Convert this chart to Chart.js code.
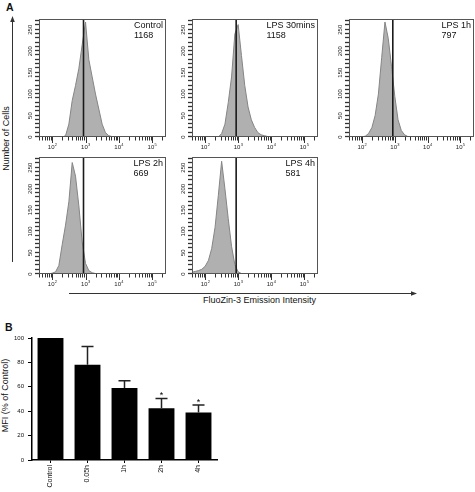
<!DOCTYPE html>
<html>
<head>
<meta charset="utf-8">
<script src="https://cdn.jsdelivr.net/npm/chart.js@4.4.1/dist/chart.umd.min.js"></script>
<style>
  html, body { margin: 0; padding: 0; background: #fff; }
  #page { position: relative; width: 475px; height: 492px; overflow: hidden; font-family: "Liberation Sans", Arial, sans-serif; color: #111; }
  .abs { position: absolute; }
  .txt { position: absolute; white-space: nowrap; line-height: 1; }
  .rot { transform: rotate(-90deg); transform-origin: center center; text-align: center; }
</style>
</head>
<body>
<div id="page">
  <svg class="abs" width="475" height="492" style="left:0;top:0">
    <!-- axis arrows of panel A -->
    <line x1="12.5" y1="262" x2="12.5" y2="21" stroke="#333" stroke-width="1"/>
    <polygon points="12.5,16 10.2,22 14.8,22" fill="#333"/>
    <line x1="69" y1="293.5" x2="412" y2="293.5" stroke="#333" stroke-width="1"/>
    <polygon points="417,293.5 411,291.2 411,295.8" fill="#333"/>
  </svg>

  <div class="txt" style="left:6px;top:2px;font-size:10.5px;font-weight:bold">A</div>
  <div class="txt" style="left:5px;top:322px;font-size:10.5px;font-weight:bold">B</div>
  <div class="txt rot" style="left:-44px;top:134px;width:100px;font-size:9px">Number of Cells</div>
  <div class="txt" style="left:203px;top:295.5px;font-size:9px">FluoZin-3 Emission Intensity</div>
  <div class="txt rot" style="left:-45px;top:391px;width:100px;font-size:9px">MFI (% of Control)</div>

  <div id="panels"></div>
  <div class="abs" style="left:0;top:330px"><canvas id="bar" width="222" height="162"></canvas></div>
</div>

<script>
// ---- data: histograms (panel A) ----
// bin centres, log-spaced (10^1.5 ... 10^3.9)
const bins = [32, 40, 50, 63, 79, 100, 126, 158, 200, 251, 316, 398, 501, 631, 794, 1000, 1259, 1585, 1995, 2512, 3162, 3981, 5012, 6310, 7943];

const countsControl = [0, 0, 0, 0, 0, 0, 0, 0, 0, 3, 30, 85, 120, 160, 215, 268, 180, 140, 100, 65, 30, 10, 3, 1, 0];
const counts30min   = [0, 0, 0, 0, 0, 0, 0, 0, 0, 0, 8, 30, 80, 140, 240, 262, 190, 120, 70, 40, 22, 10, 5, 3, 1];
const counts1h      = [0, 0, 0, 0, 0, 0, 2, 8, 22, 50, 100, 185, 268, 230, 165, 95, 40, 15, 5, 1, 0, 0, 0, 0, 0];
const counts2h      = [0, 0, 0, 0, 0, 2, 5, 20, 70, 115, 170, 262, 230, 160, 75, 25, 8, 3, 1, 0, 0, 0, 0, 0, 0];
const counts4h      = [3, 4, 6, 8, 11, 18, 32, 60, 110, 185, 265, 200, 130, 65, 22, 5, 1, 0, 0, 0, 0, 0, 0, 0, 0];

const panelNames = ["Control", "LPS 30mins", "LPS 1h", "LPS 2h", "LPS 4h"];
const panelMFI = ["1168", "1158", "797", "669", "581"];
const panelCounts = [countsControl, counts30min, counts1h, counts2h, counts4h];
const markerLine = 870; // reference line (control median)

const yTickLabels = [0, 50, 100, 150, 200, 250];
const xDecades = [100, 1000, 10000, 100000];
const xDecadeExp = ["2", "3", "4", "5"];

// ---- data: bar chart (panel B) ----
const groups = ["Control", "0.05h", "1h", "2h", "4h"];
const mfiMean = [100, 78, 59, 42.5, 39];
const mfiErr = [0, 15, 6, 8, 6];
const signif = ["", "", "", "*", "*"];

// plot boxes [left, top, right, bottom]
const boxes = [
  [39, 19, 166, 137],
  [192, 19, 318, 137],
  [349, 19, 474, 137],
  [39, 157, 166, 274],
  [192, 157, 318, 274],
];

const FONT = '"Liberation Sans", Arial, sans-serif';
const X_MIN = 40, X_MAX = 262144, Y_MAX = 275;

// box, ticks, labels and the name/MFI note of one histogram
const histAxes = {
  id: "histAxes",
  afterDraw(chart, args, opts) {
    const { ctx, chartArea: a, scales: { x, y } } = chart;
    ctx.save();

    // y ticks (every 10) + rotated labels
    ctx.strokeStyle = "#333";
    ctx.lineWidth = 1.3;
    for (let v = 0; v <= Y_MAX; v += 10) {
      const py = Math.round(y.getPixelForValue(v)) - 0.5;
      ctx.beginPath();
      ctx.moveTo(a.left - 4, py);
      ctx.lineTo(a.left, py);
      ctx.stroke();
    }
    ctx.fillStyle = "#222";
    ctx.font = "6px " + FONT;
    ctx.textAlign = "center";
    ctx.textBaseline = "middle";
    yTickLabels.forEach((v) => {
      ctx.save();
      ctx.translate(a.left - 9, y.getPixelForValue(v));
      ctx.rotate(-Math.PI / 2);
      ctx.fillText(String(v), 0, 0);
      ctx.restore();
    });

    // x ticks (log, minor 2..9)
    ctx.lineWidth = 1;
    for (let d = 10; d <= 100000; d *= 10) {
      for (let m = 1; m <= 9; m++) {
        const v = d * m;
        if (v < X_MIN || v > X_MAX) continue;
        const px = Math.round(x.getPixelForValue(v)) + 0.5;
        const len = m === 1 ? 6 : 3.5;
        ctx.beginPath();
        ctx.moveTo(px, a.bottom);
        ctx.lineTo(px, a.bottom + len);
        ctx.stroke();
      }
    }
    ctx.textAlign = "left";
    ctx.textBaseline = "alphabetic";
    xDecades.forEach((v, i) => {
      const px = x.getPixelForValue(v);
      ctx.font = "6px " + FONT;
      const w1 = ctx.measureText("10").width;
      ctx.font = "4px " + FONT;
      const w2 = ctx.measureText(xDecadeExp[i]).width;
      const x0 = px - (w1 + w2) / 2;
      ctx.font = "6px " + FONT;
      ctx.fillText("10", x0, a.bottom + 12);
      ctx.font = "4px " + FONT;
      ctx.fillText(xDecadeExp[i], x0 + w1 + 0.3, a.bottom + 9);
    });

    // box
    ctx.strokeStyle = "#555";
    ctx.lineWidth = 1;
    ctx.strokeRect(a.left + 0.5, a.top + 0.5, a.right - a.left - 1, a.bottom - a.top - 1);

    // name + MFI
    ctx.fillStyle = "#111";
    ctx.font = "9px " + FONT;
    const tw = ctx.measureText(opts.name).width;
    const tx = a.right - 3 - tw;
    ctx.fillText(opts.name, tx, a.top + 8.5);
    ctx.fillText(opts.mfi, tx, a.top + 18.5);
    ctx.restore();
  },
};

const holder = document.getElementById("panels");
boxes.forEach((b, i) => {
  const padL = 16, padT = 2, padR = 1, padB = 16;
  const w = b[2] - b[0] + padL + padR;
  const h = b[3] - b[1] + padT + padB;
  const div = document.createElement("div");
  div.className = "abs";
  div.style.left = b[0] - padL + "px";
  div.style.top = b[1] - padT + "px";
  const cv = document.createElement("canvas");
  cv.width = w;
  cv.height = h;
  div.appendChild(cv);
  holder.appendChild(div);

  new Chart(cv, {
    type: "line",
    data: {
      datasets: [
        {
          data: bins.map((bx, k) => ({ x: bx, y: panelCounts[i][k] })),
          borderColor: "#858585",
          borderWidth: 1,
          backgroundColor: "#b0b0b0",
          fill: "origin",
          pointRadius: 0,
          tension: 0,
          order: 2,
        },
        {
          data: [{ x: markerLine, y: 0 }, { x: markerLine, y: Y_MAX }],
          borderColor: "#1a1a1a",
          borderWidth: 1.6,
          pointRadius: 0,
          fill: false,
          order: 1,
        },
      ],
    },
    options: {
      animation: false,
      responsive: false,
      events: [],
      layout: { padding: { left: padL, top: padT, right: padR, bottom: padB } },
      plugins: {
        legend: { display: false },
        tooltip: { enabled: false },
        histAxes: { name: panelNames[i], mfi: panelMFI[i] },
      },
      scales: {
        x: { type: "logarithmic", min: X_MIN, max: X_MAX, display: false },
        y: { type: "linear", min: 0, max: Y_MAX, display: false },
      },
    },
    plugins: [histAxes],
  });
});

// error bars + significance marks
const errorBars = {
  id: "errorBars",
  afterDatasetsDraw(chart) {
    const { ctx, scales: { y } } = chart;
    const meta = chart.getDatasetMeta(0);
    ctx.save();
    ctx.strokeStyle = "#222";
    ctx.lineWidth = 1.5;
    meta.data.forEach((el, i) => {
      const top = y.getPixelForValue(mfiMean[i] + mfiErr[i]);
      if (mfiErr[i] > 0) {
        ctx.beginPath();
        ctx.moveTo(el.x, el.y);
        ctx.lineTo(el.x, top);
        ctx.moveTo(el.x - 6, top);
        ctx.lineTo(el.x + 6, top);
        ctx.stroke();
      }
      if (signif[i]) {
        ctx.fillStyle = "#000";
        ctx.font = "9px " + FONT;
        ctx.textAlign = "center";
        ctx.textBaseline = "alphabetic";
        ctx.fillText(signif[i], el.x, top - 0.5);
      }
    });
    ctx.restore();
  },
};

new Chart(document.getElementById("bar"), {
  type: "bar",
  data: {
    labels: groups,
    datasets: [
      {
        data: mfiMean,
        backgroundColor: "#000",
        barPercentage: 0.7,
        categoryPercentage: 1,
      },
    ],
  },
  options: {
    animation: false,
    responsive: false,
    events: [],
    layout: { padding: { top: 8, right: 5, left: 0, bottom: 0 } },
    plugins: { legend: { display: false }, tooltip: { enabled: false } },
    scales: {
      x: {
        grid: { drawOnChartArea: false, offset: false, tickLength: 3, color: "#000", lineWidth: 1 },
        border: { color: "#000", width: 1.5 },
        ticks: { minRotation: 90, maxRotation: 90, padding: 2, color: "#111", font: { size: 7, family: FONT } },
        afterFit(s) { s.height = 32; },
      },
      y: {
        min: 0,
        max: 100,
        grid: { drawOnChartArea: false, tickLength: 4, color: "#000", lineWidth: 1 },
        border: { color: "#000", width: 1.5 },
        ticks: { stepSize: 20, padding: 4, color: "#111", font: { size: 6, family: FONT } },
        afterFit(s) { s.width = 32; },
      },
    },
  },
  plugins: [errorBars],
});
</script>
</body>
</html>
